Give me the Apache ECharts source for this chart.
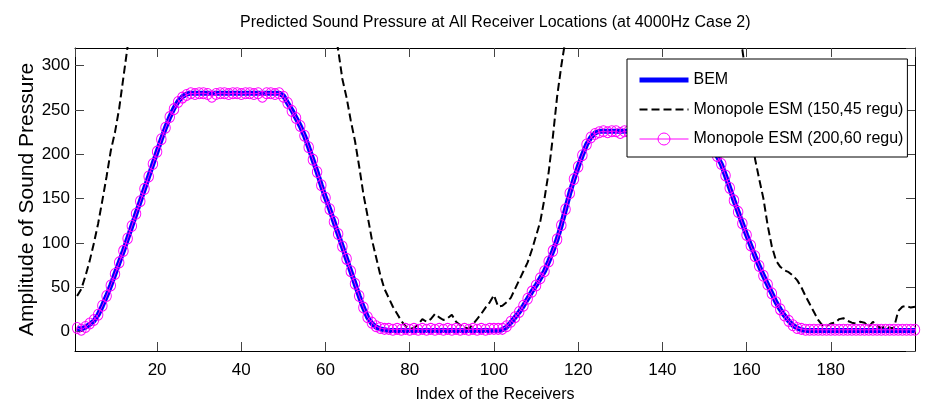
<!DOCTYPE html>
<html>
<head>
<meta charset="utf-8">
<script src="https://cdn.jsdelivr.net/npm/echarts@6/dist/echarts.min.js"></script>
<style>
html,body{margin:0;padding:0;background:#fff;}
#chart{width:940px;height:408px;}
</style>
</head>
<body>
<div id="chart"></div>
<script>
// ---- data ----
const chartTitle = 'Predicted Sound Pressure at All Receiver Locations (at 4000Hz Case 2)';
const xAxisName = 'Index of the Receivers';
const yAxisName = 'Amplitude of Sound Pressure';
const seriesNames = ['BEM', 'Monopole ESM (150,45 regu)', 'Monopole ESM (200,60 regu)'];

// receiver index 1..200
const receiverIndex = [];
for (let i = 1; i <= 200; i++) receiverIndex.push(i);

// BEM (thick blue)
const bemValues = [
  3, 3, 5, 8, 12, 19, 29, 40, 52, 65, 78, 91, 105, 119, 133, 147, 161, 175, 189, 203, 217, 230, 242, 252, 260, 265, 268,
  269, 269, 269, 269, 269, 269, 269, 269, 269, 269, 269, 269, 269, 269, 269, 269, 269, 269, 269, 269, 269, 269,
  266, 258, 250, 241, 232, 221, 208, 194, 180, 165, 151, 138, 124, 110, 96, 82, 68, 54, 40, 27, 16, 9, 5, 3, 2,
  1, 1, 1, 1, 1, 1, 1, 1, 1, 1, 1, 1, 1, 1, 1, 1, 1, 1, 1, 1, 1, 1, 1, 1, 1, 1, 1,
  2, 5, 10, 16, 22, 29, 37, 45, 52, 60, 68, 79, 91, 104, 120, 138, 156, 172, 186, 199, 211, 219, 224, 226,
  226, 226, 226, 226, 226, 226, 226, 226, 226, 226, 226, 226, 226, 226, 226, 226, 226, 226, 226, 226, 226, 226, 226, 224,
  221, 215, 207, 198, 189, 176, 162, 148, 135, 122, 109, 97, 85, 74, 63, 53, 43, 33, 25, 18, 12, 7, 4, 2, 1, 1,
  1, 1, 1, 1, 1, 1, 1, 1, 1, 1, 1, 1, 1, 1, 1, 1, 1, 1, 1, 1, 1, 1, 1, 1, 1
];

// Monopole ESM (150,45 regu) (black dashed); values above 320 run off the top of the plot
const esm150Values = [
  40, 48, 63, 80, 100, 122, 148, 175, 204, 225, 252, 287, 322,
  360, 400, 440, 478, 515, 550, 582, 610, 635, 655, 672, 685, 694, 700, 703, 703, 700, 695, 688, 680, 670,
  660, 650, 640, 630, 620, 612, 603, 594, 584, 573, 562, 550, 538, 525, 512, 500, 490, 478, 466, 454, 442,
  428, 414, 400, 387, 374, 360, 345,
  318, 285, 264, 238, 215, 186, 155, 130, 104, 84, 64, 48, 38, 28, 20, 12, 6, 3, 4, 8,
  14, 11, 14, 20, 16, 13, 15, 19, 11, 7, 5, 3, 8, 14, 20, 27, 33, 41, 28,
  29, 33, 38, 48, 58, 68, 78, 92, 108, 124, 150, 180, 220, 265, 300, 330,
  360, 400, 440, 478, 512, 545, 575, 600, 620, 636, 648, 656, 660, 660, 656, 650, 640, 628, 614, 598,
  580, 562, 543, 524, 505, 487, 470, 455, 441, 428, 416, 405, 395, 385, 376, 367, 358, 349, 340, 335, 328,
  318, 285, 240, 195, 172, 150, 120, 96, 80, 73, 69, 67, 63, 58, 50, 40, 31, 22, 13, 7,
  6, 9, 10, 14, 15, 12, 10, 9, 11, 10, 5, 11, 6, 4, 6, 4, 4, 23, 28, 29, 27, 28
];

// Monopole ESM (200,60 regu) (magenta circles)
const esm200Values = [
  4, 2, 5, 9, 13, 19, 29, 40, 52, 65, 78, 91, 105, 119, 133, 147, 161, 175, 189, 203, 217, 230, 242, 251, 259, 264, 267,
  269, 268, 269, 269, 268, 265, 268, 269, 269, 268, 269, 269, 268, 269, 269, 268, 269, 265, 269, 269, 268, 269,
  265, 258, 249, 241, 232, 221, 208, 194, 180, 165, 151, 138, 124, 110, 96, 82, 68, 54, 40, 27, 16, 10, 6, 4, 3,
  3, 2, 3, 2, 3, 2, 3, 2, 3, 2, 3, 2, 3, 2, 3, 2, 3, 2, 3, 2, 3, 2, 3, 2, 3, 3, 3,
  3, 6, 11, 16, 22, 29, 37, 45, 52, 60, 68, 79, 91, 104, 120, 138, 156, 172, 186, 199, 211, 219, 223, 225,
  226, 225, 226, 226, 224, 226, 226, 225, 226, 226, 226, 225, 226, 226, 226, 225, 226, 226, 226, 225, 226, 226, 225, 224,
  221, 215, 207, 198, 189, 176, 162, 148, 135, 122, 109, 97, 85, 74, 63, 53, 43, 33, 25, 18, 12, 7, 4, 3, 2, 2,
  2, 2, 2, 2, 2, 2, 2, 2, 2, 2, 2, 2, 2, 2, 2, 2, 2, 2, 2, 2, 2, 2, 2, 2, 2
];

const xRange = [0.5, 200];
const yRange = [-22, 320];

// ---- chart ----
const FONT = '"Liberation Sans", Arial, sans-serif';
const pairs = (vals) => receiverIndex.map((x, i) => [x, vals[i]]);

const chart = echarts.init(document.getElementById('chart'), null, {renderer: 'canvas'});

const tickStyle = {lineStyle: {color: '#444', width: 1}};
const axisLine = {show: true, onZero: false, lineStyle: {color: '#000', width: 1}};

const option = {
  animation: false,
  backgroundColor: '#ffffff',
  title: {
    text: chartTitle,
    left: 240,
    top: 15,
    padding: 0,
    textStyle: {fontFamily: FONT, fontSize: 16, fontWeight: 'normal', color: '#000'}
  },
  grid: {left: 75, right: 25, top: 48, bottom: 55, containLabel: false},
  legend: {
    left: 627,
    top: 59,
    z: 20,
    orient: 'vertical',
    padding: [13, 4, 10, 10],
    itemGap: 13.5,
    itemWidth: 49,
    itemHeight: 15,
    backgroundColor: '#fff',
    borderColor: '#000',
    borderWidth: 1,
    borderRadius: 0,
    selectedMode: false,
    textStyle: {fontFamily: FONT, fontSize: 16, color: '#000'},
    data: [
      {name: seriesNames[0], itemStyle: {opacity: 0}, lineStyle: {width: 5, color: '#0000ff'}},
      {name: seriesNames[1], itemStyle: {opacity: 0}, lineStyle: {width: 2, color: '#000', type: [8, 4]}},
      {name: seriesNames[2], itemStyle: {color: 'rgba(255,255,255,0)', borderColor: '#ff00ff', borderWidth: 1}, lineStyle: {width: 1, color: '#ff00ff'}}
    ]
  },
  xAxis: [
    {
      type: 'value', min: xRange[0], max: xRange[1], splitNumber: 10,
      position: 'bottom',
      name: xAxisName, nameLocation: 'middle', nameGap: 36, nameMoveOverlap: false,
      nameTextStyle: {fontFamily: FONT, fontSize: 16, color: '#000'},
      axisLine: axisLine,
      axisTick: Object.assign({inside: true, length: 9}, tickStyle),
      axisLabel: {fontFamily: FONT, fontSize: 17, color: '#000', margin: 11, showMinLabel: false, showMaxLabel: false},
      splitLine: {show: false}
    },
    {
      type: 'value', min: xRange[0], max: xRange[1], splitNumber: 10,
      position: 'top',
      axisLine: axisLine,
      axisTick: Object.assign({inside: true, length: 9}, tickStyle),
      axisLabel: {show: false},
      splitLine: {show: false}
    }
  ],
  yAxis: [
    {
      type: 'value', min: yRange[0], max: yRange[1], splitNumber: 7,
      position: 'left',
      name: yAxisName, nameLocation: 'middle', nameGap: 37, nameRotate: 90, nameMoveOverlap: false,
      nameTextStyle: {fontFamily: FONT, fontSize: 21, color: '#000'},
      axisLine: axisLine,
      axisTick: Object.assign({inside: true, length: 9}, tickStyle),
      axisLabel: {fontFamily: FONT, fontSize: 17, color: '#000', margin: 5, showMinLabel: false, showMaxLabel: false},
      splitLine: {show: false}
    },
    {
      type: 'value', min: yRange[0], max: yRange[1], splitNumber: 7,
      position: 'right',
      axisLine: axisLine,
      axisTick: Object.assign({inside: true, length: 9}, tickStyle),
      axisLabel: {show: false},
      splitLine: {show: false}
    }
  ],
  series: [
    {
      name: seriesNames[0], type: 'line', xAxisIndex: 0, yAxisIndex: 0,
      data: pairs(bemValues),
      symbol: 'none', color: '#0000ff',
      lineStyle: {color: '#0000ff', width: 5},
      clip: true, z: 2
    },
    {
      name: seriesNames[1], type: 'line', xAxisIndex: 0, yAxisIndex: 0,
      data: pairs(esm150Values),
      symbol: 'none', color: '#000',
      lineStyle: {color: '#000', width: 2, type: [8, 4]},
      clip: true, z: 2
    },
    {
      name: seriesNames[2], type: 'line', xAxisIndex: 0, yAxisIndex: 0,
      data: pairs(esm200Values),
      symbol: 'circle', symbolSize: [9.5, 11],
      showSymbol: true, showAllSymbol: true,
      color: '#ff00ff',
      itemStyle: {color: 'rgba(255,255,255,0)', borderColor: '#ff00ff', borderWidth: 1},
      lineStyle: {color: '#ff00ff', width: 1},
      clip: true, z: 2
    }
  ]
};
chart.setOption(option);
</script>
</body>
</html>
